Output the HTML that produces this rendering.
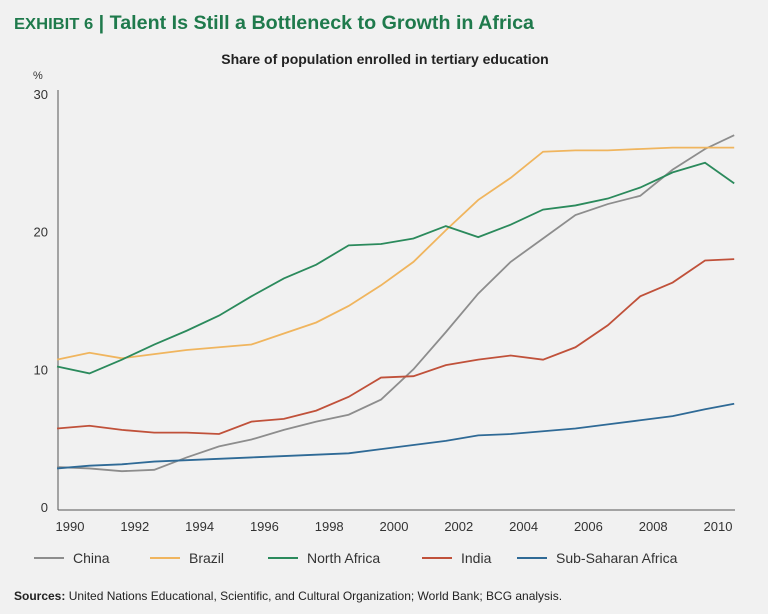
<!DOCTYPE html>
<html><head><meta charset="utf-8"><style>
body{margin:0;background:#f1f1f1;font-family:"Liberation Sans",sans-serif;}
#wrap{position:relative;width:768px;height:614px;overflow:hidden;}
</style></head><body>
<div id="wrap">
<svg id="chart" width="768" height="614">
<text x="14" y="29" font-size="19" font-weight="bold" fill="#1f7a4c" textLength="520" lengthAdjust="spacingAndGlyphs"><tspan font-size="16">EXHIBIT 6</tspan> | Talent Is Still a Bottleneck to Growth in Africa</text>
<text x="385" y="64" font-size="14" font-weight="bold" fill="#222" text-anchor="middle">Share of population enrolled in tertiary education</text>
<text x="33" y="79" font-size="11" fill="#333">%</text>
<text x="14" y="600" font-size="12" fill="#222"><tspan font-weight="bold">Sources:</tspan> United Nations Educational, Scientific, and Cultural Organization; World Bank; BCG analysis.</text>
<g id="axes"></g><g id="lines"></g><g id="legend"></g>
</svg>
</div>
<script>
const years=[1989.6,1990.6,1991.6,1992.6,1993.6,1994.6,1995.6,1996.6,1997.6,1998.6,1999.6,2000.6,2001.6,2002.6,2003.6,2004.6,2005.6,2006.6,2007.6,2008.6,2009.6,2010.5];
const china=[2.9,2.8,2.6,2.7,3.6,4.4,4.9,5.6,6.2,6.7,7.8,10,12.7,15.5,17.8,19.5,21.2,22,22.6,24.5,26,27];
const brazil=[10.7,11.2,10.8,11.1,11.4,11.6,11.8,12.6,13.4,14.6,16.1,17.8,20.1,22.3,23.9,25.8,25.9,25.9,26,26.1,26.1,26.1];
const northAfrica=[10.2,9.7,10.7,11.8,12.8,13.9,15.3,16.6,17.6,19,19.1,19.5,20.4,19.6,20.5,21.6,21.9,22.4,23.2,24.3,25,23.5];
const india=[5.7,5.9,5.6,5.4,5.4,5.3,6.2,6.4,7,8,9.4,9.5,10.3,10.7,11,10.7,11.6,13.2,15.3,16.3,17.9,18];
const ssa=[2.8,3,3.1,3.3,3.4,3.5,3.6,3.7,3.8,3.9,4.2,4.5,4.8,5.2,5.3,5.5,5.7,6,6.3,6.6,7.1,7.5];
const xTicks=[1990,1992,1994,1996,1998,2000,2002,2004,2006,2008,2010];
const yTicks=[0,10,20,30];
const seriesNames=["China","Brazil","North Africa","India","Sub-Saharan Africa"];
const seriesData=[china,brazil,northAfrica,india,ssa];
const colors=["#8d8d8d","#f0b55e","#2b8a5c","#c0513a","#2f6a96"];
const NS="http://www.w3.org/2000/svg";
const x=v=>70+(v-1990)*32.4;
const y=v=>507-v*13.77;
function mk(tag,attrs,parent){const e=document.createElementNS(NS,tag);for(const k in attrs)e.setAttribute(k,attrs[k]);parent.appendChild(e);return e;}
const axes=document.getElementById('axes');
let a=mk('line',{x1:58,x2:58,y1:90,y2:510,stroke:'#555','stroke-width':1},axes);


a=mk('line',{x1:58,x2:735,y1:510,y2:510,stroke:'#555','stroke-width':1},axes);


yTicks.forEach(t=>{const e=mk('text',{x:48,y:y(t)+5,'font-size':13,fill:'#333','text-anchor':'end'},axes);e.textContent=t;

});
xTicks.forEach(t=>{const e=mk('text',{x:x(t),y:531,'font-size':13,fill:'#333','text-anchor':'middle'},axes);e.textContent=t;

});
const lines=document.getElementById('lines');
seriesData.forEach((d,i)=>{const p=mk('polyline',{points:d.map((v,j)=>x(years[j])+','+y(v)).join(' '),fill:'none',stroke:colors[i],'stroke-width':1.8},lines);

});
const leg=document.getElementById('legend');
const lx=[34,150,268,422,517];
seriesNames.forEach((n,i)=>{const g=mk('g',{},leg);


mk('line',{x1:lx[i],x2:lx[i]+30,y1:558,y2:558,stroke:colors[i],'stroke-width':2},g);
const t=mk('text',{x:lx[i]+39,y:563,'font-size':14,fill:'#333'},g);t.textContent=n;});
</script>
</body></html>
